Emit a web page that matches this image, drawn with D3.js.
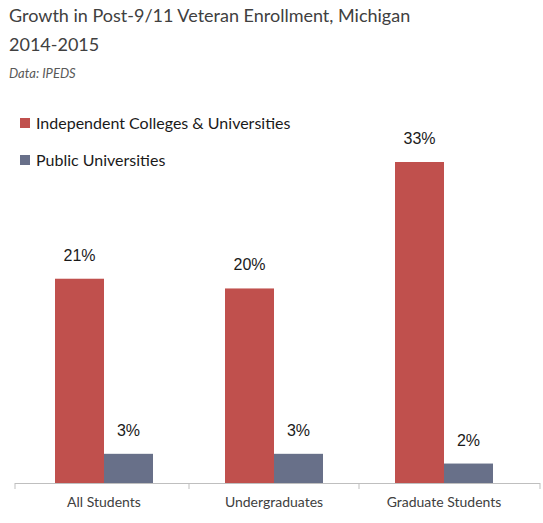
<!DOCTYPE html>
<html>
<head>
<meta charset="utf-8">
<script src="https://cdn.jsdelivr.net/npm/d3@7"></script>
<style>
  body { margin: 0; background: #fff; }
  text { font-family: Lato, "Open Sans", sans-serif; }
</style>
</head>
<body>
<div id="chart"></div>
<script>
var categories = ["All Students", "Undergraduates", "Graduate Students"];
var seriesNames = ["Independent Colleges & Universities", "Public Universities"];
var independent = [21, 20, 33];
var publicUni = [3, 3, 2];

var width = 543, height = 523;
var colors = ["#C0504D", "#687089"];

var svg = d3.select("#chart").append("svg")
  .attr("width", width)
  .attr("height", height);

// title
svg.append("text").attr("x", 9).attr("y", 22)
  .style("font-size", "18px").style("fill", "#404040")
  .text("Growth in Post-9/11 Veteran Enrollment, Michigan");
svg.append("text").attr("x", 9).attr("y", 51)
  .style("font-size", "18px").style("fill", "#404040")
  .text("2014-2015");
svg.append("text").attr("x", 9).attr("y", 78)
  .style("font-size", "13px").style("font-style", "italic").style("fill", "#595959")
  .text("Data: IPEDS");

var x = d3.scaleBand().domain(categories).range([19, 529]);
var inner = d3.scaleBand().domain([0, 1]).range([0, 98]);
var y = d3.scaleLinear().domain([0, 33]).range([483, 162]);

var data = categories.map(function(c, i) {
  return { cat: c, vals: [independent[i], publicUni[i]] };
});

var g = svg.selectAll(".grp").data(data).enter().append("g")
  .attr("transform", function(d) { return "translate(" + (x(d.cat) + x.bandwidth() / 2 - 49) + ",0)"; });

g.selectAll("rect").data(function(d) { return d.vals; }).enter().append("rect")
  .attr("x", function(d, i) { return inner(i); })
  .attr("width", inner.bandwidth())
  .attr("y", function(d) { return y(d); })
  .attr("height", function(d) { return y(0) - y(d); })
  .style("fill", function(d, i) { return colors[i]; });

g.selectAll(".lbl").data(function(d) { return d.vals; }).enter().append("text")
  .attr("x", function(d, i) { return inner(i) + inner.bandwidth() / 2; })
  .attr("y", function(d) { return y(d) - 18; })
  .attr("text-anchor", "middle")
  .style("font-family", "Arial, 'Liberation Sans', sans-serif")
  .style("font-size", "16px").style("fill", "#1a1a1a")
  .text(function(d) { return d + "%"; });

// axis
var axis = svg.append("g").attr("transform", "translate(0,483)")
  .call(d3.axisBottom(x).tickSize(0).tickPadding(14));
axis.select(".domain").attr("stroke", "#bfbfbf").attr("d", "M15,0.5H540");
axis.selectAll("text").style("font-family", "Lato, sans-serif")
  .style("font-size", "14px").style("fill", "#404040");
var edges = [15, 189, 359, 540];
axis.selectAll(".edge").data(edges).enter().append("line")
  .attr("x1", function(d) { return d; }).attr("x2", function(d) { return d; })
  .attr("y1", 0).attr("y2", 6).attr("stroke", "#bfbfbf");

// legend
var leg = svg.selectAll(".leg").data(seriesNames).enter().append("g")
  .attr("transform", function(d, i) { return "translate(20," + (118 + i * 37) + ")"; });
leg.append("rect").attr("width", 10).attr("height", 10)
  .style("fill", function(d, i) { return colors[i]; });
leg.append("text").attr("x", 16).attr("y", 11)
  .style("font-size", "16px").style("fill", "#1a1a1a")
  .text(function(d) { return d; });
</script>
</body>
</html>
